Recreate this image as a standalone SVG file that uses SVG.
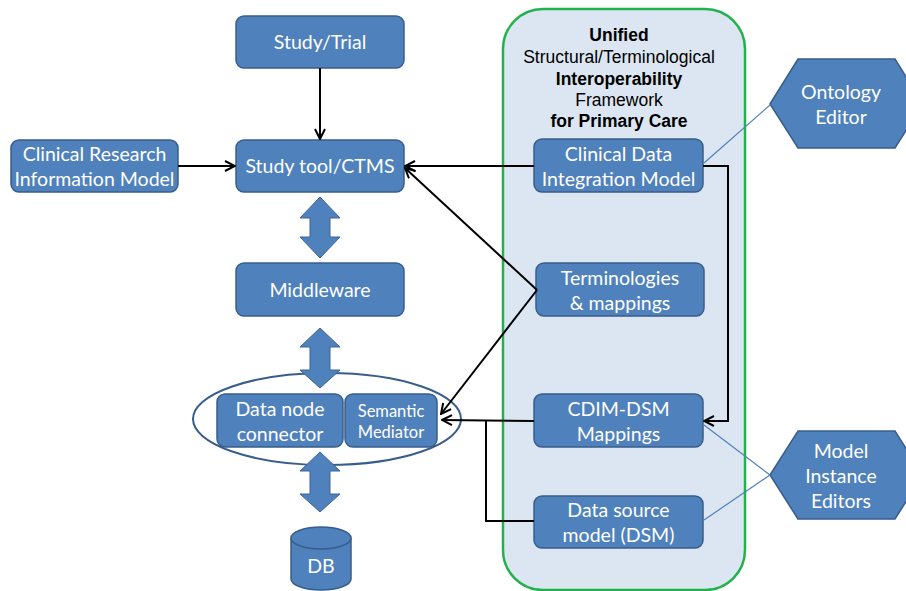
<svg xmlns="http://www.w3.org/2000/svg" width="906" height="591" viewBox="0 0 906 591">
<style>
.box{fill:#4f81bd;stroke:#385d8a;stroke-width:1.5}
.t{fill:#fff;font-family:Lato,"Open Sans",sans-serif;font-size:19.5px;text-anchor:middle}
.ts{fill:#fff;font-family:Lato,"Open Sans",sans-serif;font-size:16.5px;text-anchor:middle}
.h{fill:#000;font-family:"Liberation Sans",Arial,sans-serif;font-size:17.5px;text-anchor:middle}
.b{font-weight:bold}
.con{fill:none;stroke:#000;stroke-width:2}
.thin{fill:none;stroke:#4f81bd;stroke-width:1.2}
.dbl{fill:#4f81bd;stroke:#3a6596;stroke-width:1}
</style>
<defs>
<marker id="arr" viewBox="0 0 12 12" refX="11" refY="6" markerWidth="12" markerHeight="12" markerUnits="userSpaceOnUse" orient="auto">
<path d="M1,1 L11,6 L1,11" fill="none" stroke="#000" stroke-width="2"/>
</marker>
</defs>
<g id="framework">
<rect x="503" y="9" width="242" height="581" rx="40" fill="#dce6f2" stroke="#22b24c" stroke-width="2.5"/>
<text class="h b" x="619" y="41">Unified</text>
<text class="h" x="619" y="63">Structural/Terminological</text>
<text class="h b" x="619" y="85">Interoperability</text>
<text class="h" x="619" y="106">Framework</text>
<text class="h b" x="619" y="127">for Primary Care</text>
</g>
<g id="study-trial"><rect class="box" x="236" y="16" width="168" height="52" rx="8"/><text class="t" x="320" y="49">Study/Trial</text></g>
<g id="ctms"><rect class="box" x="236" y="140" width="168" height="52" rx="8"/><text class="t" x="320" y="173">Study tool/CTMS</text></g>
<g id="crim"><rect class="box" x="11" y="140" width="167" height="52" rx="8"/><text class="t" x="94.5" y="161">Clinical Research</text><text class="t" x="94.5" y="186">Information Model</text></g>
<g id="middleware"><rect class="box" x="236" y="263" width="168" height="53" rx="8"/><text class="t" x="320" y="297">Middleware</text></g>
<g id="data-node"><ellipse cx="327" cy="419" rx="134" ry="46" fill="none" stroke="#385d8a" stroke-width="2"/>
<rect class="box" x="217" y="394" width="126" height="53" rx="8"/><text class="t" x="280" y="416">Data node</text><text class="t" x="280" y="441">connector</text>
<rect class="box" x="345" y="394" width="92" height="53" rx="8"/><text class="ts" x="391" y="417">Semantic</text><text class="ts" x="391" y="438">Mediator</text></g>
<g id="db"><path class="box" d="M291,538 L291,579 A30,11 0 0 0 351,579 L351,538"/><ellipse class="box" cx="321" cy="538" rx="30" ry="11"/><text class="t" x="321" y="573">DB</text></g>
<g id="cdim"><rect class="box" x="534" y="139" width="169" height="53" rx="8"/><text class="t" x="618.5" y="161">Clinical Data</text><text class="t" x="618.5" y="186">Integration Model</text></g>
<g id="terminologies"><rect class="box" x="536" y="263" width="168" height="53" rx="8"/><text class="t" x="620" y="285">Terminologies</text><text class="t" x="620" y="310">&amp; mappings</text></g>
<g id="cdim-dsm"><rect class="box" x="534" y="394" width="169" height="53" rx="8"/><text class="t" x="618.5" y="416">CDIM-DSM</text><text class="t" x="618.5" y="441">Mappings</text></g>
<g id="dsm"><rect class="box" x="534" y="496" width="169" height="52" rx="8"/><text class="t" x="618.5" y="517">Data source</text><text class="t" x="618.5" y="542">model (DSM)</text></g>
<g id="ontology-editor"><polygon class="box" points="770,104 798,59 895,59 923,104 895,148 798,148"/><text class="t" x="841" y="99">Ontology</text><text class="t" x="841" y="124">Editor</text></g>
<g id="model-instance-editors"><polygon class="box" points="770,475 798,431 895,431 923,475 895,519 798,519"/><text class="t" x="841" y="458">Model</text><text class="t" x="841" y="483">Instance</text><text class="t" x="841" y="508">Editors</text></g>
<g id="connectors">
<path class="con" d="M320,68 L320,139" marker-end="url(#arr)"/>
<path class="con" d="M178,166 L235,166" marker-end="url(#arr)"/>
<path class="con" d="M534,166 L405,166" marker-end="url(#arr)"/>
<path class="con" d="M537,290 L405,168" marker-end="url(#arr)"/>
<path class="con" d="M537,290 L441,414" marker-end="url(#arr)"/>
<path class="con" d="M703,166 L728,166 L728,421 L704,421" marker-end="url(#arr)"/>
<path class="con" d="M534,421 L442,420" marker-end="url(#arr)"/>
<path class="con" d="M534,521 L486,521 L486,421"/>
<path class="thin" d="M770,105 L704,163"/>
<path class="thin" d="M770,475 L704,425"/>
<path class="thin" d="M770,475 L704,520"/>
<path class="dbl" d="M320,197 L340,218 L330,218 L330,237 L340,237 L320,258 L300,237 L310,237 L310,218 L300,218 Z"/>
<path class="dbl" d="M320,328 L340,347 L330,347 L330,370 L340,370 L320,388 L300,370 L310,370 L310,347 L300,347 Z"/>
<path class="dbl" d="M320,452 L340,471 L330,471 L330,494 L340,494 L320,512 L300,494 L310,494 L310,471 L300,471 Z"/>
</g>
</svg>
